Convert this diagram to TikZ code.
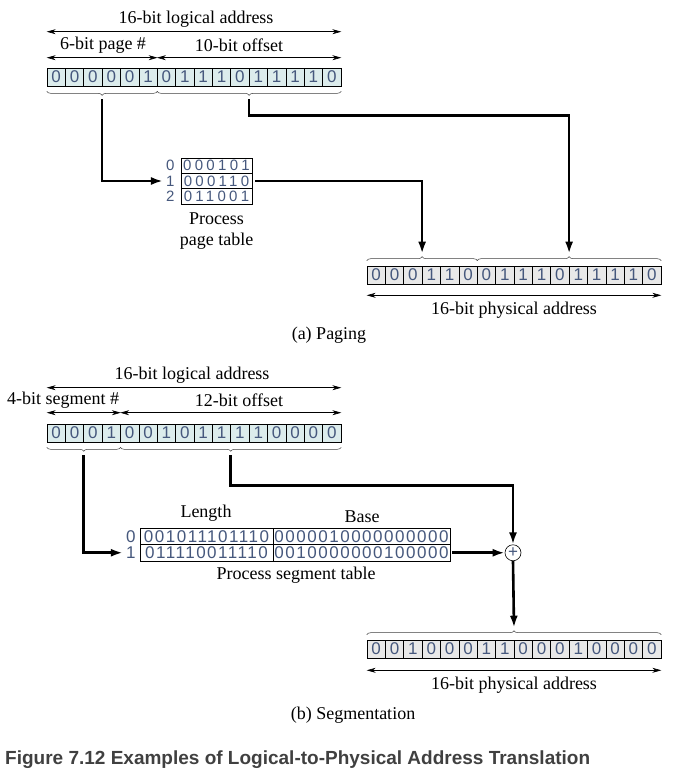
\documentclass[tikz,border=0pt]{standalone}
\usepackage{fontspec}
\setmainfont{Liberation Serif}
\newfontfamily\bitfont{Liberation Sans}
\newfontfamily\capfont{Liberation Sans}
\usetikzlibrary{arrows.meta,decorations.pathreplacing,calc}

\definecolor{bitcol}{RGB}{70,88,125}
\definecolor{logfill}{RGB}{220,236,236}
\definecolor{physfill}{RGB}{232,232,232}
\definecolor{capcol}{RGB}{64,64,64}

\newcommand\bitsize{\bitfont\fontsize{17}{17}\selectfont}
\newcommand\ptsize{\bitfont\fontsize{15}{15}\selectfont}
\newcommand\lblsize{\fontsize{18}{21}\selectfont}

\tikzset{
  bitcell/.style={draw, line width=0.6pt, minimum width=18.375pt, minimum height=18pt,
    inner sep=0pt, fill=logfill, text=bitcol, font=\bitsize},
  physcell/.style={bitcell, fill=physfill},
  tabrow/.style={draw, line width=0.6pt, inner sep=0pt, text=bitcol},
  idx/.style={anchor=east, inner xsep=3pt, inner ysep=0pt, text=bitcol, font=\bitsize},
  lbl/.style={font=\lblsize, inner sep=0pt},
  dimline/.style={{Stealth[length=9pt,width=5pt]}-{Stealth[length=9pt,width=5pt]}, line width=0.6pt},
  flow/.style={line width=2.6pt, -{Latex[length=12pt,width=8pt]}},
  bracedown/.style={decorate, decoration={brace, amplitude=4pt, mirror}, line width=0.5pt, draw=black!75},
  braceup/.style={decorate, decoration={brace, amplitude=4pt}, line width=0.5pt, draw=black!75}
}

\begin{document}
\begin{tikzpicture}[x=1pt, y=-1pt]

\fill[white] (0,0) rectangle (683,777);
\useasboundingbox (0,0) rectangle (683,777);

% (a) Paging: logical address
\foreach \b [count=\i] in {0,0,0,0,0,1,0,1,1,1,0,1,1,1,1,0}
  \node[bitcell] (la\i) at ({47+(\i-0.5)*18.375},77) {\b};

\draw[dimline] ([yshift=36pt]la1.north west) -- ([yshift=36pt]la16.north east);
\node[lbl] (lalbl) at (196,19) {16-bit logical address};
\draw[dimline] ([yshift=10pt]la1.north west) -- ([yshift=10pt]la6.north east);
\draw[dimline] ([yshift=10pt]la7.north west) -- ([yshift=10pt]la16.north east);
\node[lbl] (pglbl) at (103,45) {6-bit page \#};
\node[lbl] (offlbl) at (239,45) {10-bit offset};

\draw[bracedown] ([yshift=-5pt]la1.south west) -- ([yshift=-5pt]la6.south east);
\draw[bracedown] ([yshift=-5pt]la7.south west) -- ([yshift=-5pt]la16.south east);
\coordinate (pgsel) at ($(la1.south west)!0.5!(la6.south east)+(0,13)$);
\coordinate (offsel) at ($(la7.south west)!0.5!(la16.south east)+(0,13)$);

% Process page table
\node[tabrow, minimum width=71pt, minimum height=15.33pt,
  font=\ptsize\addfontfeature{LetterSpace=22}] (pt0) at (216.5,165.7) {000101};
\node[tabrow, minimum width=71pt, minimum height=15.33pt,
  font=\ptsize\addfontfeature{LetterSpace=22}] (pt1) at (216.5,181) {000110};
\node[tabrow, minimum width=71pt, minimum height=15.33pt,
  font=\ptsize\addfontfeature{LetterSpace=22}] (pt2) at (216.5,196.3) {011001};
\node[idx, font=\ptsize] (pti0) at ([xshift=-3pt]pt0.west) {0};
\node[idx, font=\ptsize] (pti1) at ([xshift=-3pt]pt1.west) {1};
\node[idx, font=\ptsize] (pti2) at ([xshift=-3pt]pt2.west) {2};
\node[lbl, align=center] (ptlbl) at (216.5,231) {Process\\page table};

% (a) Paging: physical address
\foreach \b [count=\i] in {0,0,0,1,1,0,0,1,1,1,0,1,1,1,1,0}
  \node[physcell] (pa\i) at ({367+(\i-0.5)*18.375},275) {\b};

\draw[braceup] ([yshift=5pt]pa1.north west) -- ([yshift=5pt]pa6.north east);
\draw[braceup] ([yshift=5pt]pa7.north west) -- ([yshift=5pt]pa16.north east);
\coordinate (pfr) at ($(pa1.north west)!0.5!(pa6.north east)+(0,-12)$);
\coordinate (pofs) at ($(pa7.north west)!0.5!(pa16.north east)+(0,-12)$);

\draw[dimline] ([yshift=-11pt]pa1.south west) -- ([yshift=-11pt]pa16.south east);
\node[lbl] (palbl) at (514,310) {16-bit physical address};

% Arrows of the translation
\draw[flow] (pgsel) |- (pti1.west);
\draw[flow, shorten <=3pt] (pt1.east) -| (pfr);
\draw[flow] (offsel) -- ++(0,16) -| (pofs);

\node[lbl] (acap) at (329,335) {(a) Paging};

% (b) Segmentation: logical address
\foreach \b [count=\i] in {0,0,0,1,0,0,1,0,1,1,1,1,0,0,0,0}
  \node[bitcell] (sa\i) at ({47+(\i-0.5)*18.375},433) {\b};

\draw[dimline] ([yshift=36pt]sa1.north west) -- ([yshift=36pt]sa16.north east);
\node[lbl] (salbl) at (192,375) {16-bit logical address};
\draw[dimline] ([yshift=11pt]sa1.north west) -- ([yshift=11pt]sa4.north east);
\draw[dimline] ([yshift=11pt]sa5.north west) -- ([yshift=11pt]sa16.north east);
\node[lbl] (seglbl) at (63,400) {4-bit segment \#};
\node[lbl] (soffl) at (239,400) {12-bit offset};

\draw[bracedown] ([yshift=-5pt]sa1.south west) -- ([yshift=-5pt]sa4.south east);
\draw[bracedown] ([yshift=-5pt]sa5.south west) -- ([yshift=-5pt]sa16.south east);
\coordinate (segsel) at ($(sa1.south west)!0.5!(sa4.south east)+(0,13)$);
\coordinate (soffsel) at ($(sa5.south west)!0.5!(sa16.south east)+(0,13)$);

% Process segment table
\node[tabrow, minimum width=133pt, minimum height=16.5pt,
  font=\bitsize\addfontfeature{LetterSpace=9}] (st0l) at (206.5,536.25) {001011101110};
\node[tabrow, minimum width=177pt, minimum height=16.5pt,
  font=\bitsize\addfontfeature{LetterSpace=9}] (st0b) at (361.5,536.25) {0000010000000000};
\node[tabrow, minimum width=133pt, minimum height=16.5pt,
  font=\bitsize\addfontfeature{LetterSpace=9}] (st1l) at (206.5,552.75) {011110011110};
\node[tabrow, minimum width=177pt, minimum height=16.5pt,
  font=\bitsize\addfontfeature{LetterSpace=9}] (st1b) at (361.5,552.75) {0010000000100000};
\node[idx] (sti0) at ([xshift=-1pt]st0l.west) {0};
\node[idx] (sti1) at ([xshift=-1pt]st1l.west) {1};
\node[lbl] (lenlbl) at (206,513) {Length};
\node[lbl] (baselbl) at (362,517) {Base};
\node[lbl] (stlbl) at (296,575) {Process segment table};

\node[circle, draw, line width=0.6pt, minimum size=16pt, inner sep=0pt,
  text=bitcol, font=\bitsize] (plus) at (513,552.75) {+};

% (b) Segmentation: physical address
\foreach \b [count=\i] in {0,0,1,0,0,0,1,1,0,0,0,1,0,0,0,0}
  \node[physcell] (sp\i) at ({367+(\i-0.5)*18.375},649) {\b};

\draw[braceup] ([yshift=5pt]sp1.north west) -- ([yshift=5pt]sp16.north east);
\coordinate (sfr) at ($(sp1.north west)!0.5!(sp16.north east)+(0,-12)$);

\draw[dimline] ([yshift=-12pt]sp1.south west) -- ([yshift=-12pt]sp16.south east);
\node[lbl] (splbl) at (514,685) {16-bit physical address};

% Arrows of the translation
\draw[flow] (segsel) |- (sti1.west);
\draw[flow] (soffsel) -- ++(0,30) -| (plus.north);
\draw[flow, shorten <=2pt] (st1b.east) -- (plus.west);
\draw[flow] (plus.south) -- (sfr);

\node[lbl] (bcap) at (353,715) {(b) Segmentation};

% Caption
\node[anchor=west, inner sep=0pt, text=capcol, font=\capfont\bfseries\fontsize{19}{21}\selectfont]
  (figcap) at (5,760) {Figure 7.12 Examples of Logical-to-Physical Address Translation};

\end{tikzpicture}
\end{document}
